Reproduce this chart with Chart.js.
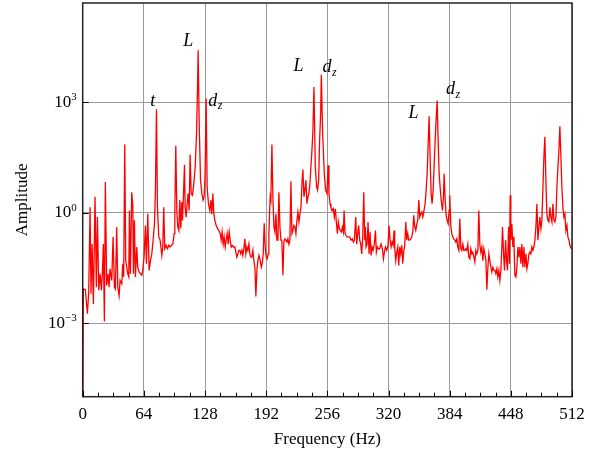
<!DOCTYPE html>
<html>
<head>
<meta charset="utf-8">
<script src="https://cdn.jsdelivr.net/npm/chart.js@4"></script>
<style>
  html, body { margin: 0; padding: 0; background: #fff; }
</style>
</head>
<body>
<canvas id="spectrum" width="600" height="457"></canvas>
<script>
// frequency (Hz) and amplitude
var freq = [
  0, 0.7, 2.8, 4.9, 6.3, 7.7, 8.7, 9.8, 11.2, 12.9, 14.3, 15.4, 16.8, 18.2, 19.6, 20.6, 21.6, 22.7, 23.7, 25.1,
  26.5, 27.6, 28.6, 30.4, 31.8, 33.2, 34.2, 35.6, 36.7, 38.1, 39.1, 40.9, 41.9, 42.9, 44.0, 45.0, 46.1, 47.1, 48.2, 48.9,
  49.9, 51.3, 52.4, 53.1, 54.1, 55.2, 56.6, 57.6, 59.0, 60.4, 61.8, 62.8, 64.2, 65.6, 66.7, 68.1, 69.5, 70.9, 72.3, 73.7,
  75.1, 76.1, 77.2, 78.2, 79.6, 81.0, 82.8, 83.8, 84.8, 85.9, 87.3, 88.7, 90.1, 91.5, 92.9, 94.3, 95.7, 96.4, 97.4, 98.5,
  99.5, 100.6, 101.6, 102.7, 103.7, 104.4, 105.4, 106.5, 107.2, 108.2, 109.3, 110.3, 111.4, 112.4, 113.5, 114.9, 116.3, 117.7, 119.1, 120.1,
  120.8, 121.9, 123.3, 124.7, 126.0, 127.1, 128.1, 129.2, 130.2, 131.6, 133.0, 134.1, 135.1, 136.2, 137.2, 138.6, 139.7, 141.1, 142.5, 143.9,
  144.9, 145.9, 147.0, 148.0, 149.1, 150.1, 151.2, 152.2, 153.3, 154.3, 155.4, 156.4, 157.8, 159.2, 160.3, 161.3, 162.4, 163.4, 164.5, 165.5,
  166.6, 167.6, 168.6, 169.7, 170.7, 171.8, 172.8, 173.9, 174.9, 176.0, 177.0, 178.1, 179.1, 180.2, 181.2, 182.3, 183.3, 184.4, 185.8, 186.8,
  187.8, 188.9, 189.9, 191.0, 192.0, 193.1, 194.1, 194.8, 195.5, 196.2, 196.9, 198.0, 199.0, 200.1, 201.1, 202.2, 203.2, 204.3, 205.3, 206.4,
  207.4, 208.4, 209.5, 210.5, 211.6, 212.6, 213.7, 214.7, 215.8, 216.8, 217.9, 218.9, 220.0, 221.0, 222.1, 223.1, 224.2, 225.2, 226.3, 227.3,
  228.4, 229.4, 230.4, 231.5, 232.5, 233.6, 234.6, 235.7, 236.7, 237.8, 238.8, 239.9, 240.9, 242.0, 243.4, 244.8, 245.8, 246.9, 247.9, 249.0,
  249.7, 251.1, 252.8, 254.2, 255.6, 256.8, 257.7, 258.8, 259.8, 261.2, 262.3, 263.3, 264.4, 265.4, 266.5, 267.5, 268.6, 269.6, 270.7, 271.7,
  272.8, 273.5, 274.5, 275.6, 276.6, 278.0, 279.4, 280.8, 282.2, 283.2, 284.3, 285.7, 286.7, 287.8, 288.8, 289.9, 290.9, 292.0, 293.0, 294.1,
  295.1, 295.8, 296.5, 297.6, 298.6, 299.6, 300.7, 301.7, 302.8, 303.8, 305.2, 306.3, 307.3, 308.4, 309.4, 310.8, 312.2, 313.6, 314.7, 315.7,
  316.8, 318.2, 319.5, 320.6, 321.6, 322.7, 323.7, 324.8, 325.8, 326.5, 327.6, 328.6, 329.7, 330.7, 331.8, 332.8, 333.9, 334.9, 336.0, 337.0,
  338.1, 339.1, 340.1, 341.2, 342.2, 343.3, 344.3, 345.4, 346.4, 347.5, 348.5, 349.6, 350.6, 351.7, 352.7, 353.8, 354.8, 355.9, 356.9, 358.3,
  359.4, 360.4, 361.4, 362.5, 363.5, 364.6, 365.6, 366.7, 367.7, 368.8, 369.8, 370.9, 371.9, 373.0, 374.0, 375.1, 376.5, 377.5, 378.2, 379.3,
  380.3, 381.3, 382.4, 383.4, 384.1, 385.2, 386.2, 387.3, 388.3, 389.4, 390.4, 391.5, 392.5, 393.6, 394.6, 395.7, 396.7, 397.8, 398.8, 399.9,
  400.9, 401.9, 403.0, 404.0, 405.1, 406.1, 407.2, 408.2, 409.3, 410.3, 411.4, 412.4, 413.5, 414.5, 415.6, 416.6, 417.7, 418.7, 419.8, 420.8,
  421.9, 422.9, 424.0, 425.0, 426.0, 427.1, 428.1, 429.2, 430.2, 431.3, 432.3, 433.4, 434.4, 435.5, 436.5, 437.6, 438.6, 439.3, 440.4, 441.4,
  442.5, 443.5, 444.5, 445.6, 446.6, 447.3, 448.0, 449.1, 450.1, 451.2, 452.2, 453.3, 454.3, 455.4, 456.4, 457.5, 458.5, 459.6, 460.6, 461.7,
  462.7, 463.8, 464.8, 465.8, 466.9, 467.9, 469.0, 470.0, 471.1, 472.1, 473.2, 474.2, 475.3, 476.3, 477.4, 478.4, 479.5, 480.5, 481.6, 482.6,
  483.6, 484.7, 485.7, 486.8, 487.8, 488.9, 489.9, 491.0, 492.0, 493.1, 494.1, 495.2, 496.2, 497.3, 498.3, 499.3, 500.4, 501.4, 502.5, 503.5,
  504.6, 505.6, 506.7, 507.7, 508.8, 509.8, 510.9, 512
];
var amp = [
  1e-6, 8.5e-3, 8.1e-3, 1.8e-3, 6.9e-3, 1.4, 6.3e-3, 0.14, 3.3e-3, 2.7, 9.5e-3, 0.76, 7.8e-3, 0.022, 7.8e-3, 0.022, 0.14, 1.1e-3, 6.8, 0.0105,
  0.022, 9.5e-3, 0.030, 0.0145, 0.22, 9.5e-3, 8.5e-3, 0.41, 9.5e-3, 5.6e-3, 0.0145, 0.0117, 0.041, 0.018, 71, 0.050, 0.033, 0.022, 0.018, 1.15,
  0.022, 3.6, 1.58, 0.022, 0.62, 0.018, 0.117, 0.033, 0.0245, 0.022, 0.020, 0.027, 0.062, 0.45, 0.041, 0.93, 0.027, 0.050, 0.076, 0.18,
  0.50, 4.1, 650, 1.4, 0.22, 0.18, 0.069, 0.117, 1.4, 0.105, 0.13, 0.105, 0.13, 0.117, 0.13, 0.14, 0.27, 0.93, 66, 1.15,
  0.41, 0.33, 2.2, 0.37, 1.95, 0.62, 2.7, 20, 1.4, 0.76, 1.75, 3.3, 1.15, 38, 3.3, 3.0, 6.2, 17.5, 140, 2100,
  26000, 263, 7.6, 3.3, 2.2, 2.7, 11.5, 1260, 5.0, 1.75, 1.15, 2.2, 0.93, 3.3, 0.93, 0.56, 0.45, 0.37, 0.33, 0.27,
  0.18, 0.30, 0.14, 0.22, 0.117, 0.18, 0.27, 0.14, 0.30, 0.18, 0.117, 0.13, 0.117, 0.117, 0.085, 0.062, 0.076, 0.095, 0.095, 0.076,
  0.095, 0.069, 0.105, 0.195, 0.076, 0.117, 0.095, 0.14, 0.076, 0.062, 0.062, 0.095, 0.050, 0.033, 5.3e-3, 0.027, 0.050, 0.069, 0.050, 0.033,
  0.041, 0.076, 0.52, 0.117, 0.062, 0.056, 0.076, 0.27, 0.93, 2.7, 2.2, 71, 2.7, 0.41, 0.30, 0.93, 0.18, 0.18, 3.6, 0.41,
  0.18, 0.18, 0.020, 0.16, 0.195, 0.18, 0.16, 0.195, 0.14, 0.18, 7.1, 0.27, 0.33, 0.45, 0.41, 0.27, 0.62, 1.05, 0.56, 0.93,
  1.4, 6.2, 14.8, 2.7, 4.1, 7.6, 1.75, 2.7, 3.3, 6.2, 17.5, 50, 174, 2600, 17.5, 5.0, 4.1, 7.6, 93, 490,
  5600, 140, 11.5, 4.1, 3.3, 19.5, 3.3, 1.75, 1.4, 1.15, 1.28, 0.76, 1.28, 0.56, 0.27, 0.56, 0.37, 0.33, 0.30, 0.41,
  0.30, 1.15, 0.27, 0.24, 0.22, 0.22, 0.22, 0.18, 0.195, 0.16, 0.18, 0.76, 0.14, 0.27, 0.45, 0.18, 0.14, 0.076, 0.22, 3.6,
  0.18, 0.41, 0.117, 0.14, 0.56, 0.076, 0.30, 0.069, 0.117, 0.095, 0.14, 0.33, 0.085, 0.117, 0.105, 0.105, 0.14, 0.105, 0.056, 0.085,
  0.117, 0.095, 0.13, 0.45, 0.18, 0.117, 0.16, 0.13, 0.33, 0.105, 0.050, 0.085, 0.117, 0.037, 0.117, 0.076, 0.13, 0.041, 0.095, 0.13,
  0.56, 0.18, 0.27, 0.18, 0.18, 0.195, 0.22, 0.30, 0.85, 0.41, 0.33, 0.50, 0.62, 2.2, 0.76, 0.93, 1.05, 0.76, 1.05, 1.75,
  4.1, 11.5, 61, 420, 33, 3.3, 1.75, 4.1, 17.5, 93, 325, 1120, 93, 11.5, 5.0, 2.2, 1.15, 2.7, 11.5, 2.2,
  0.85, 0.62, 0.50, 1.15, 3.0, 0.45, 0.27, 0.22, 0.195, 0.18, 0.16, 0.195, 0.117, 0.095, 0.69, 0.105, 0.095, 0.14, 0.095, 0.095,
  0.105, 0.095, 0.14, 0.062, 0.056, 0.105, 0.076, 0.085, 0.062, 0.046, 0.095, 0.076, 0.095, 1.15, 0.13, 0.085, 0.117, 0.050, 0.105, 0.076,
  0.050, 8.1e-3, 0.033, 0.076, 0.050, 0.033, 0.0245, 0.033, 0.027, 0.027, 0.022, 0.030, 0.018, 0.027, 0.0145, 0.027, 0.117, 0.41, 0.076, 0.027,
  0.18, 0.050, 0.027, 0.41, 0.041, 3.0, 0.18, 0.50, 0.117, 0.22, 0.020, 0.018, 0.033, 0.117, 0.062, 0.117, 0.041, 0.14, 0.033, 0.117,
  0.033, 0.076, 0.030, 0.041, 0.076, 0.085, 0.076, 0.117, 0.095, 0.117, 0.18, 0.41, 1.75, 0.18, 0.41, 0.76, 0.37, 0.62, 5.0, 33,
  115, 7.6, 0.93, 0.62, 0.56, 1.4, 0.76, 0.56, 1.75, 0.62, 0.56, 0.76, 5.0, 17.5, 50, 224, 33, 5.0, 1.4, 0.76,
  0.93, 0.33, 0.45, 0.22, 0.18, 0.13, 0.11, 0.11
];

var xTicks = [0, 64, 128, 192, 256, 320, 384, 448, 512];
var yTicks = [1e-3, 1, 1e3];
var yTickExp = ['\u22123', '0', '3'];

// peak markers: text, subscript, left edge (Hz), vertical centre (amplitude)
var peakText = ['t', 'L', 'd', 'L', 'd', 'L', 'd'];
var peakSub = ['', '', 'z', '', 'z', '', 'z'];
var peakFreq = [70.6, 105.2, 131.5, 220.7, 250.8, 341, 380.2];
var peakAmp = [1100, 45000, 1100, 9500, 8900, 515, 2240];

var serif = '"Liberation Serif", "Times New Roman", serif';
Chart.defaults.font.family = serif;
Chart.defaults.color = '#000';

var points = freq.map(function (f, i) { return { x: f, y: amp[i] }; });

var decorPlugin = {
  id: 'decor',
  afterDraw: function (chart) {
    var ctx = chart.ctx;
    var area = chart.chartArea;
    var xs = chart.scales.x;
    var ys = chart.scales.y;
    ctx.save();

    // frame
    ctx.strokeStyle = '#222';
    ctx.lineWidth = 1.5;
    ctx.strokeRect(area.left, area.top, area.right - area.left, area.bottom - area.top);

    // inward ticks on the bottom axis (minor every 16 Hz)
    ctx.lineWidth = 1;
    ctx.strokeStyle = '#000';
    ctx.beginPath();
    for (var v = 0; v <= 512; v += 16) {
      var px = Math.round(xs.getPixelForValue(v)) + 0.5;
      var len = (v % 64 === 0) ? 6 : 4;
      ctx.moveTo(px, area.bottom);
      ctx.lineTo(px, area.bottom - len);
    }
    // inward ticks on the left axis
    yTicks.forEach(function (t) {
      var py = Math.round(ys.getPixelForValue(t)) + 0.5;
      ctx.moveTo(area.left, py);
      ctx.lineTo(area.left + 6, py);
    });
    ctx.stroke();

    // y tick labels as 10^n
    ctx.fillStyle = '#000';
    ctx.textBaseline = 'alphabetic';
    ctx.textAlign = 'left';
    yTicks.forEach(function (t, i) {
      var py = ys.getPixelForValue(t);
      ctx.font = '17px ' + serif;
      var wBase = ctx.measureText('10').width;
      ctx.font = '11px ' + serif;
      var wExp = ctx.measureText(yTickExp[i]).width;
      var right = area.left - 6;
      ctx.font = '17px ' + serif;
      ctx.fillText('10', right - wExp - wBase, py + 4.5);
      ctx.font = '11px ' + serif;
      ctx.fillText(yTickExp[i], right - wExp, py - 2);
    });

    // peak labels
    peakText.forEach(function (txt, i) {
      var px = xs.getPixelForValue(peakFreq[i]);
      var py = ys.getPixelForValue(peakAmp[i]);
      ctx.font = 'italic 18px ' + serif;
      ctx.textBaseline = 'middle';
      ctx.fillText(txt, px, py);
      if (peakSub[i]) {
        var w = ctx.measureText(txt).width;
        ctx.font = 'italic 12px ' + serif;
        ctx.fillText(peakSub[i], px + w + 0.5, py + 5);
      }
    });
    ctx.restore();
  }
};

new Chart(document.getElementById('spectrum').getContext('2d'), {
  type: 'line',
  data: {
    datasets: [{
      data: points,
      borderColor: '#ff0000',
      borderWidth: 1.3,
      pointRadius: 0,
      tension: 0,
      fill: false
    }]
  },
  options: {
    responsive: false,
    animation: false,
    events: [],
    layout: { padding: { left: 0, right: 28, top: 3, bottom: 0 } },
    plugins: { legend: { display: false }, tooltip: { enabled: false } },
    scales: {
      x: {
        type: 'linear',
        min: 0,
        max: 512,
        afterBuildTicks: function (scale) {
          scale.ticks = xTicks.map(function (v) { return { value: v }; });
        },
        afterFit: function (scale) { scale.height = 60.3; },
        ticks: { font: { size: 17 }, padding: 8, maxRotation: 0, autoSkip: false },
        grid: { color: '#9a9a9a', lineWidth: 1, drawTicks: false },
        border: { display: false },
        title: { display: true, text: 'Frequency (Hz)', font: { size: 17 }, padding: { top: 0, bottom: 7 } }
      },
      y: {
        type: 'logarithmic',
        min: 1e-5,
        max: 5e5,
        afterBuildTicks: function (scale) {
          scale.ticks = yTicks.map(function (v) { return { value: v }; });
        },
        afterFit: function (scale) { scale.width = 82.7; },
        ticks: { display: false },
        grid: { color: '#9a9a9a', lineWidth: 1, drawTicks: false },
        border: { display: false },
        title: { display: true, text: 'Amplitude', font: { size: 17 }, padding: { top: 12, bottom: 0 } }
      }
    }
  },
  plugins: [decorPlugin]
});
</script>
</body>
</html>
